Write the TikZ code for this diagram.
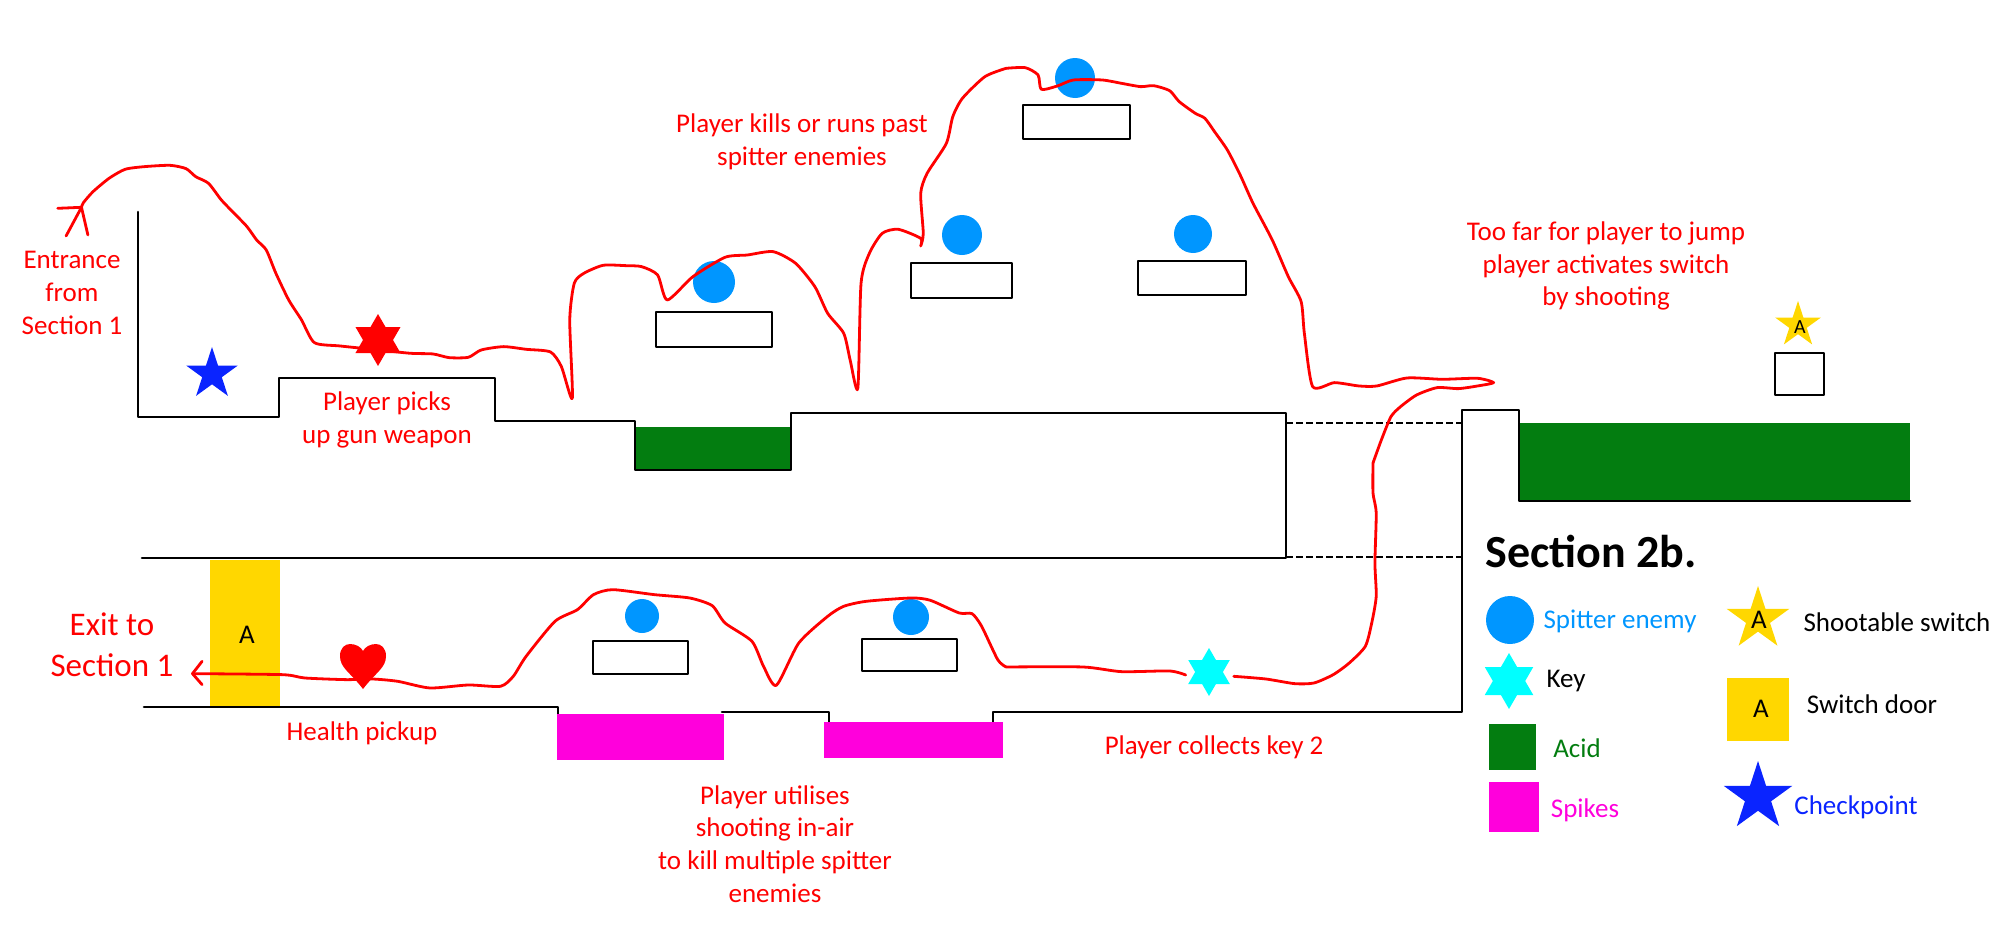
\documentclass[tikz,border=0pt]{standalone}
\usepackage{fontspec}
\setmainfont{Carlito}
\usetikzlibrary{shapes.geometric}
\definecolor{acidgreen}{HTML}{037D10}
\definecolor{spitblue}{HTML}{0096FF}
\definecolor{doorgold}{HTML}{FFD700}
\definecolor{spikepink}{HTML}{FF00DC}
\definecolor{pointblue}{HTML}{0A24FF}
\definecolor{keycyan}{HTML}{00FFFF}
\tikzset{
  wall/.style={line width=1.3pt,black},
  gapline/.style={line width=1.3pt,black,dash pattern=on 3.5pt off 1.5pt,line cap=butt},
  trail/.style={line width=1.4pt,red},
  platform/.style={line width=1.3pt,black,fill=white},
  note/.style={text=red,align=center,font=\fontsize{13.5}{16.4}\selectfont},
  legendtext/.style={align=center,font=\fontsize{13.5}{16.4}\selectfont},
  fivestar/.style={star,star points=5,star point ratio=2.618,inner sep=0pt,draw=none},
  sixstar/.style={star,star points=6,star point ratio=1.732,inner sep=0pt,draw=none},
  zoneA/.style={xscale=.6416,yscale=.3333},
  zoneB/.style={shift={(1006,0)},xscale=.6416,yscale=.3333},
  zoneC/.style={shift={(0,463)},xscale=.6416,yscale=.3333},
  zoneD/.style={shift={(1006,463)},xscale=.6416,yscale=.3333}
}
\begin{document}
\begin{tikzpicture}[line cap=round,line join=round,x=0.5pt,y=-0.5pt]
\useasboundingbox (0,0) rectangle (2012,926);
% hazards
\fill [acidgreen] (635,427) rectangle (791,470);
\fill [acidgreen] (1519,423) rectangle (1910,501);
\fill [doorgold] (210,560) rectangle (280,706);
% upper level
\draw [wall] (138,212)-- (138,417)-- (279,417)-- (279,378)-- (495,378)-- (495,421)-- (635,421)-- (635,470)-- (791,470)-- (791,413)-- (1286,413)-- (1286,558)-- (142,558);
\draw [gapline] (1286,423)-- (1462,423);
\draw [gapline] (1286,557)-- (1462,557);
% lower level
\draw [wall] (144,707)-- (558,707)-- (558,752);
\draw [wall] (722,712)-- (829,712)-- (829,722);
\draw [wall] (993,722)-- (993,712)-- (1462,712)-- (1462,410)-- (1519,410)-- (1519,501)-- (1910,501);
\fill [spikepink] (557,714) rectangle (724,760);
\fill [spikepink] (824,722) rectangle (1003,758);
% platforms
\draw [platform] (656,312) rectangle (772,347);
\draw [platform] (911,263) rectangle (1012,298);
\draw [platform] (1023,105) rectangle (1130,139);
\draw [platform] (1138,261) rectangle (1246,295);
\draw [platform] (1775,353) rectangle (1824,395);
\draw [platform] (593,641) rectangle (688,674);
\draw [platform] (862,639) rectangle (957,671);
% spitter enemies
\fill [spitblue] (714,282) circle (21);
\fill [spitblue] (962,235) circle (20);
\fill [spitblue] (1075,78) circle (20);
\fill [spitblue] (1193,234) circle (19);
\fill [spitblue] (642,616) circle (17);
\fill [spitblue] (911,617) circle (18);
% player route
\begin{scope}[zoneA]
\draw [trail] (90,625)-- (127,622);
\draw [trail] (103,708)-- (127,622)-- (137,705);
\draw [trail] plot[smooth,tension=.4] coordinates {(127,622) (130,608) (145,575) (170,535) (195,508) (225,500) (265,496) (290,506) (305,530) (325,550) (345,600) (365,640) (385,680) (400,720) (415,750) (430,820) (450,900) (470,960) (490,1028) (530,1038) (590,1050) (640,1060) (675,1062) (700,1073) (730,1072) (750,1050) (785,1040) (820,1048) (858,1056) (875,1100) (892,1195) (888,960) (895,850) (910,820) (940,796) (975,797) (1000,800) (1025,825) (1040,900) (1080,830) (1130,772) (1165,765) (1205,755) (1240,790) (1270,860) (1290,940) (1315,1000) (1325,1080) (1337,1165) (1342,850) (1355,760) (1375,700) (1400,688) (1435,715) (1435,738) (1439,700) (1435,580) (1445,520) (1475,430) (1485,350) (1500,295) (1535,230) (1568,205)};
\end{scope}
\begin{scope}[zoneB]
\draw [trail] plot[smooth,tension=.4] coordinates {(0,205) (30,203) (50,225) (55,268) (80,258) (105,240) (150,240) (180,250) (210,260) (230,257) (255,272) (270,305) (295,340) (310,355) (325,395) (345,450) (365,525) (385,610) (415,720) (440,830) (460,905) (465,1000) (478,1160) (512,1148) (550,1158) (578,1158) (625,1134) (680,1138) (735,1135) (760,1148) (735,1158) (705,1166) (672,1163) (640,1185) (615,1220) (600,1250) (585,1320) (572,1389)};
\end{scope}
\begin{scope}[zoneD]
\draw [trail] plot[smooth,tension=.4] coordinates {(572,0) (572,90) (577,150) (575,300) (577,400) (570,480) (560,550) (535,600) (510,635) (480,660) (450,662) (405,648) (355,640)};
\draw [trail] plot[smooth,tension=.4] coordinates {(280,636) (255,624) (180,626) (120,612) (0,612)};
\end{scope}
\begin{scope}[zoneC]
\draw [trail] plot[smooth,tension=.4] coordinates {(1568,612) (1555,590) (1530,490) (1515,452) (1495,450) (1450,412) (1420,405) (1350,415) (1315,430) (1290,460) (1245,540) (1210,667) (1190,610) (1172,535) (1130,480) (1110,428) (1075,405) (1020,395) (955,380) (925,395) (900,440) (865,475) (820,580) (800,640) (780,670) (730,666) (670,675) (620,655) (580,648) (540,650) (475,645) (440,635) (300,632)};
\draw [trail] (315,595)-- (300,632)-- (315,665);
\end{scope}
% pickups
\node [fivestar,fill=pointblue,minimum size=27pt] (checkstar) at (212,374) {};
\node [sixstar,fill=red,minimum size=26pt] (gunstar) at (378,340) {};
\node [sixstar,fill=keycyan,minimum size=24pt] (keystar) at (1209,672) {};
\node [fivestar,fill=doorgold,minimum size=24pt] (switchstar) at (1798,325) {};
\node [font=\fontsize{10}{12}\selectfont,inner sep=0pt] (switchletter) at (1800,327) {A};
\node [legendtext,inner sep=0pt] (doorletter) at (247,635) {A};
\fill [red] (363,689) .. controls (350,672) and (340,668) .. (340,656) .. controls (340,648) and (345,644) .. (350,644) .. controls (356,644) and (361,647) .. (363,651) .. controls (365,647) and (370,644) .. (376,644) .. controls (381,644) and (386,648) .. (386,656) .. controls (386,668) and (376,672) .. (363,689) -- cycle;
% route notes
\node [note] (entrance) at (72,293) {Entrance\\from\\Section 1};
\node [note] (picks) at (387,420) {Player picks\\up gun weapon};
\node [note] (kills) at (802,142) {Player kills or runs past\\spitter enemies};
\node [note] (toofar) at (1606,266) {Too far for player to jump\\player activates switch\\by shooting};
\node [note,font=\fontsize{16.5}{20.5}\selectfont] (exit) at (112,645) {Exit to\\Section 1};
\node [note] (health) at (362,733) {Health pickup};
\node [note] (utilises) at (775,844) {Player utilises\\shooting in-air\\to kill multiple spitter\\enemies};
\node [note] (collects) at (1214,747) {Player collects key 2};
% legend
\node [font=\bfseries\fontsize{23}{27}\selectfont] (title) at (1591,551) {Section 2b.};
\fill [spitblue] (1510,620) circle (24);
\node [legendtext,text=spitblue] (spittertext) at (1620,621) {Spitter enemy};
\node [sixstar,fill=keycyan,minimum size=28pt] (keymark) at (1509,681) {};
\node [legendtext] (keytext) at (1566,681) {Key};
\fill [acidgreen] (1489,724) rectangle (1536,770);
\node [legendtext,text=acidgreen] (acidtext) at (1577,748) {Acid};
\fill [spikepink] (1489,782) rectangle (1539,832);
\node [legendtext,text=spikepink] (spikestext) at (1585,810) {Spikes};
\node [fivestar,fill=doorgold,minimum size=33pt] (shootmark) at (1758,619) {};
\node [legendtext,inner sep=0pt] (shootletter) at (1759,620) {A};
\node [legendtext] (shoottext) at (1897,622) {Shootable switch};
\fill [doorgold] (1727,678) rectangle (1789,741);
\node [legendtext,inner sep=0pt] (doormarkletter) at (1761,709) {A};
\node [legendtext] (doortext) at (1872,704) {Switch door};
\node [fivestar,fill=pointblue,minimum size=36pt] (pointmark) at (1758,797) {};
\node [legendtext,text=pointblue] (pointtext) at (1856,807) {Checkpoint};
\end{tikzpicture}
\end{document}
